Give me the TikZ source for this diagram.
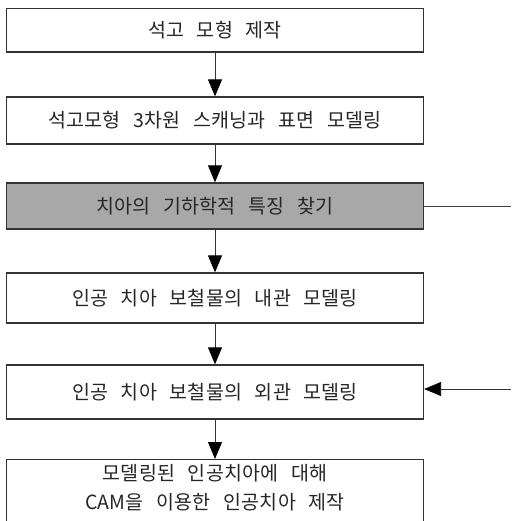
\documentclass[tikz,border=0pt]{standalone}
\usepackage{fontspec}
\setmainfont{Noto Sans CJK KR}[LetterSpace=1,WordSpace=2.8]
\usetikzlibrary{arrows.meta}
\definecolor{boxgray}{RGB}{168,168,168}
\begin{document}
\begin{tikzpicture}[x=1pt,y=-1pt,
  box/.style={draw=black!80, line width=1.3pt, rectangle, minimum width=417pt, inner sep=0pt, align=center, font=\fontsize{19.5}{29}\selectfont, text=black!85},
  flow/.style={line width=0.9pt, draw=black!80, -{Triangle[length=17pt,width=14pt,color=black]}},
  feed/.style={line width=0.9pt, draw=black!75}]
\useasboundingbox (0,0) rectangle (511,521);
\node[box, minimum height=43.5pt] (b1) at (215,30.25) {석고 모형 제작};
\node[box, minimum height=47pt] (b2) at (215,120.5) {석고모형 3차원 스캐닝과 표면 모델링};
\node[box, minimum height=46pt, fill=boxgray] (b3) at (215,206) {치아의 기하학적 특징 찾기};
\node[box, minimum height=50pt] (b4) at (215,298) {인공 치아 보철물의 내관 모델링};
\node[box, minimum height=54pt] (b5) at (215,392) {인공 치아 보철물의 외관 모델링};
\node[box, minimum height=68pt, anchor=north] (b6) at (215,459) {모델링된 인공치아에 대해\\CAM을 이용한 인공치아 제작\rule[-14pt]{0pt}{0pt}};
\coordinate (r1) at (511,206);
\coordinate (r2) at (511,389);
\draw[flow] (b1) -- (b2);
\draw[flow] (b2) -- (b3);
\draw[flow] (b3) -- (b4);
\draw[flow] (b4) -- (b5);
\draw[flow] (b5) -- (b6);
\draw[feed] (b3.east |- r1) -- (r1);
\draw[flow] (r2) -- (b5.east |- r2);
\end{tikzpicture}
\end{document}
